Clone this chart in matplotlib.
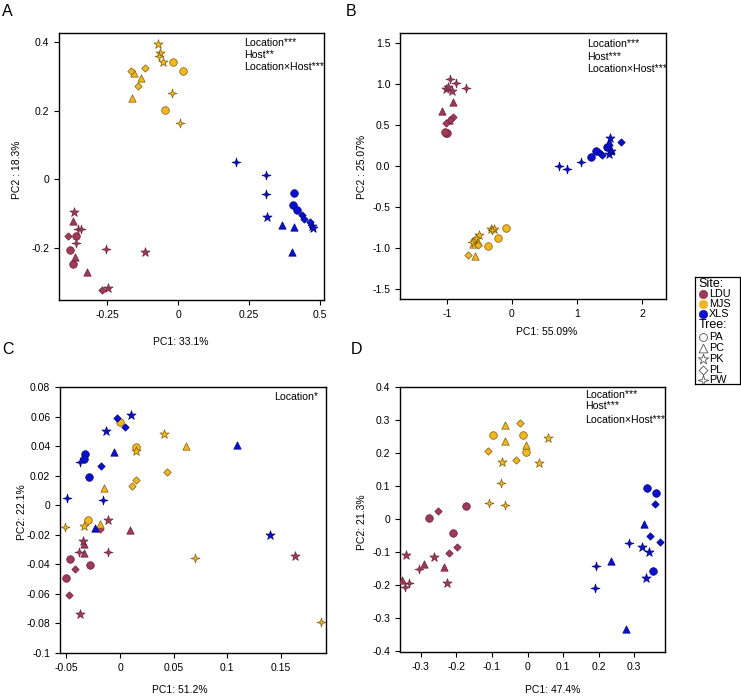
import matplotlib
matplotlib.use("Agg")
import matplotlib.pyplot as plt
from matplotlib.path import Path
import numpy as np

plt.rcParams['font.family'] = ['Liberation Sans', 'DejaVu Sans']
plt.rcParams['axes.unicode_minus'] = False

sites = ["LDU", "MJS", "XLS"]
trees = ["PA", "PC", "PK", "PL", "PW"]

# ---- panel A ----
a_pc1 = [-0.070, -0.065, -0.053, -0.068, -0.020, 0.005, -0.018, 0.017, -0.047, -0.165, -0.118, -0.140, -0.156, -0.132, -0.164,
         -0.368, -0.117, -0.246, -0.370, -0.363, -0.323, -0.353, -0.342, -0.360, -0.256, -0.361, -0.380, -0.370, -0.387, -0.267,
         0.204, 0.310, 0.308, 0.314, 0.472, 0.476, 0.410, 0.403, 0.420, 0.435, 0.443, 0.466, 0.367, 0.410, 0.401]
a_pc2 = [0.392, 0.368, 0.341, 0.358, 0.251, 0.163, 0.340, 0.314, 0.202, 0.314, 0.324, 0.270, 0.309, 0.295, 0.236,
         -0.096, -0.212, -0.315, -0.120, -0.224, -0.269, -0.143, -0.143, -0.184, -0.201, -0.163, -0.204, -0.246, -0.163, -0.320,
         0.051, 0.013, -0.041, -0.110, -0.136, -0.140, -0.039, -0.073, -0.089, -0.104, -0.114, -0.124, -0.132, -0.137, -0.212]
a_site = ["MJS"] * 15 + ["LDU"] * 15 + ["XLS"] * 15
a_tree = ["PK", "PK", "PK", "PW", "PW", "PW", "PA", "PA", "PA", "PL", "PL", "PL", "PC", "PC", "PC",
          "PK", "PK", "PK", "PC", "PC", "PC", "PW", "PW", "PW", "PW", "PA", "PA", "PA", "PL", "PL",
          "PW", "PW", "PW", "PK", "PK", "PK", "PA", "PA", "PA", "PL", "PL", "PL", "PC", "PC", "PC"]

# ---- panel B ----
b_pc1 = [-0.95, -0.86, -0.71, -1.01, -0.98, -0.92, -0.90, -1.08, -0.96, -0.91, -0.95, -1.01, -1.01, -0.99, -1.03,
         -0.09, -0.22, -0.37, -0.32, -0.28, -0.50, -0.30, -0.55, -0.62, -0.68, -0.52, -0.58, -0.57, -0.52, -0.60,
         0.73, 0.85, 1.07, 1.21, 1.29, 1.46, 1.36, 1.39, 1.68, 1.51, 1.49, 1.53, 1.48, 1.50, 1.52]
b_pc2 = [1.06, 1.02, 0.95, 0.94, 0.97, 0.92, 0.79, 0.68, 0.56, 0.60, 0.57, 0.53, 0.41, 0.40, 0.42,
         -0.75, -0.87, -0.97, -0.77, -0.76, -0.84, -0.78, -0.88, -0.92, -1.08, -0.96, -0.90, -1.09, -0.93, -0.95,
         0.00, -0.03, 0.05, 0.11, 0.19, 0.24, 0.16, 0.14, 0.29, 0.35, 0.15, 0.18, 0.25, 0.30, 0.20]
b_site = ["LDU"] * 15 + ["MJS"] * 15 + ["XLS"] * 15
b_tree = ["PW", "PW", "PW", "PK", "PK", "PK", "PC", "PC", "PC", "PL", "PL", "PL", "PA", "PA", "PA",
          "PA", "PA", "PA", "PK", "PK", "PK", "PW", "PW", "PW", "PL", "PL", "PL", "PC", "PC", "PC",
          "PW", "PW", "PW", "PA", "PA", "PA", "PL", "PL", "PL", "PK", "PK", "PK", "PC", "PC", "PC"]

# ---- panel C ----
c_pc1 = [-0.0030, 0.0106, 0.0047, -0.0131, -0.0056, -0.0323, -0.0339, -0.0376, -0.0177, -0.0292, -0.0498, -0.0162, -0.0236, 0.1089, 0.1395,
         -0.0003, 0.0407, 0.0613, 0.0149, 0.0149, 0.0442, 0.0146, 0.0115, -0.0149, -0.0302, -0.0184, -0.0333, -0.0510, 0.0700, 0.1873,
         -0.0184, -0.0109, 0.0096, -0.0342, -0.0380, -0.0333, -0.0109, -0.0467, -0.0420, -0.0283, -0.0500, -0.0473, -0.0370, 0.1630, -0.0340]
c_pc2 = [0.0589, 0.0611, 0.0532, 0.0501, 0.0363, 0.0345, 0.0316, 0.0291, 0.0268, 0.0189, 0.0050, 0.0036, -0.0156, 0.0408, -0.0201,
         0.0562, 0.0483, 0.0404, 0.0397, 0.0370, 0.0228, 0.0174, 0.0133, 0.0117, -0.0099, -0.0124, -0.0142, -0.0144, -0.0356, -0.0790,
         -0.0160, -0.0097, -0.0169, -0.0244, -0.0316, -0.0325, -0.0316, -0.0361, -0.0429, -0.0406, -0.0494, -0.0605, -0.0733, -0.0345, -0.0260]
c_site = ["XLS"] * 15 + ["MJS"] * 15 + ["LDU"] * 15
c_tree = ["PL", "PK", "PL", "PK", "PC", "PA", "PA", "PW", "PL", "PA", "PW", "PW", "PC", "PC", "PK",
          "PA", "PK", "PC", "PA", "PK", "PL", "PL", "PL", "PC", "PA", "PC", "PK", "PW", "PW", "PW",
          "PL", "PK", "PC", "PK", "PW", "PC", "PW", "PA", "PL", "PA", "PA", "PL", "PK", "PK", "PC"]

# ---- panel D ----
d_pc1 = [-0.0624, -0.0218, -0.0980, -0.0123, 0.0577, -0.0634, -0.0047, -0.0047, -0.1107, -0.0728, -0.0331, 0.0312, -0.0738, -0.1079, -0.0634,
         -0.1731, -0.2517, -0.2780, -0.2090, -0.1996, -0.2210, -0.3415, -0.2620, -0.2920, -0.3065, -0.2365, -0.3530, -0.3330, -0.3450, -0.2270,
         0.3368, 0.3605, 0.3586, 0.3273, 0.3444, 0.3718, 0.2857, 0.3217, 0.3415, 0.2356, 0.1930, 0.3520, 0.3340, 0.1910, 0.2780]
d_pc2 = [0.285, 0.292, 0.255, 0.256, 0.244, 0.237, 0.224, 0.204, 0.207, 0.174, 0.179, 0.171, 0.108, 0.048, 0.043,
         0.039, 0.025, 0.002, -0.041, -0.085, -0.102, -0.110, -0.114, -0.137, -0.150, -0.146, -0.185, -0.193, -0.207, -0.193,
         0.094, 0.079, 0.046, -0.015, -0.052, -0.069, -0.073, -0.084, -0.099, -0.126, -0.143, -0.159, -0.180, -0.208, -0.333]
d_site = ["MJS"] * 15 + ["LDU"] * 15 + ["XLS"] * 15
d_tree = ["PC", "PL", "PA", "PA", "PK", "PC", "PC", "PA", "PL", "PK", "PL", "PK", "PW", "PW", "PW",
          "PA", "PL", "PA", "PA", "PL", "PL", "PK", "PK", "PC", "PW", "PC", "PC", "PW", "PW", "PK",
          "PA", "PA", "PL", "PC", "PL", "PL", "PW", "PK", "PK", "PC", "PW", "PA", "PK", "PW", "PC"]

site_fill = {"LDU": "#9d3b57", "MJS": "#f3b520", "XLS": "#0b10cf"}
site_edge = {"LDU": "#6e2338", "MJS": "#7d5f10", "XLS": "#04047c"}

# four-pointed star for PW
ang = np.pi / 2 + np.arange(8) * np.pi / 4
rad = np.where(np.arange(8) % 2 == 0, 1.0, 0.3)
pw_verts = np.column_stack([rad * np.cos(ang), rad * np.sin(ang)])
pw_marker = Path(np.vstack([pw_verts, pw_verts[:1]]), closed=True)

tree_marker = {"PA": "o", "PC": "^", "PK": "*", "PL": "D", "PW": pw_marker}
tree_size = {"PA": 30, "PC": 28, "PK": 48, "PL": 14, "PW": 42}


def draw_panel(ax, pc1, pc2, site, tree):
    pc1 = np.array(pc1)
    pc2 = np.array(pc2)
    site = np.array(site)
    tree = np.array(tree)
    for s in sites:
        for t in trees:
            m = (site == s) & (tree == t)
            if m.any():
                ax.scatter(pc1[m], pc2[m], marker=tree_marker[t], s=tree_size[t],
                           c=site_fill[s], edgecolors=site_edge[s], linewidths=0.5, zorder=3)
    for sp in ax.spines.values():
        sp.set_linewidth(1.0)
    ax.tick_params(labelsize=7.5, length=3.5, width=0.8, direction='out')


fig = plt.figure(figsize=(7.41, 6.98), dpi=100)
W, H = 741.0, 698.0


def add_ax(l, t, r, b):
    return fig.add_axes([l / W, 1 - b / H, (r - l) / W, (b - t) / H])


axA = add_ax(59, 33, 324, 300)
axB = add_ax(400, 33, 666, 299)
axC = add_ax(60, 387, 326, 653)
axD = add_ax(400, 387, 665, 652)

draw_panel(axA, a_pc1, a_pc2, a_site, a_tree)
axA.set_xlim(-0.42, 0.514)
axA.set_ylim(-0.35, 0.425)
axA.set_xticks([-0.25, 0, 0.25, 0.5], ["-0.25", "0", "0.25", "0.5"])
axA.set_yticks([-0.2, 0, 0.2, 0.4], ["-0.2", "0", "0.2", "0.4"])

draw_panel(axB, b_pc1, b_pc2, b_site, b_tree)
axB.set_xlim(-1.72, 2.37)
axB.set_ylim(-1.62, 1.626)
axB.set_xticks([-1, 0, 1, 2], ["-1", "0", "1", "2"])
axB.set_yticks([-1.5, -1, -0.5, 0, 0.5, 1, 1.5], ["-1.5", "-1.0", "-0.5", "0.0", "0.5", "1.0", "1.5"])

draw_panel(axC, c_pc1, c_pc2, c_site, c_tree)
axC.set_xlim(-0.056, 0.192)
axC.set_ylim(-0.1, 0.08)
axC.set_xticks([-0.05, 0, 0.05, 0.1, 0.15], ["-0.05", "0", "0.05", "0.1", "0.15"])
axC.set_yticks([-0.1, -0.08, -0.06, -0.04, -0.02, 0, 0.02, 0.04, 0.06, 0.08],
               ["-0.1", "-0.08", "-0.06", "-0.04", "-0.02", "0", "0.02", "0.04", "0.06", "0.08"])

draw_panel(axD, d_pc1, d_pc2, d_site, d_tree)
axD.set_xlim(-0.359, 0.387)
axD.set_ylim(-0.403, 0.4)
axD.set_xticks([-0.3, -0.2, -0.1, 0, 0.1, 0.2, 0.3], ["-0.3", "-0.2", "-0.1", "0", "0.1", "0.2", "0.3"])
axD.set_yticks([-0.4, -0.3, -0.2, -0.1, 0, 0.1, 0.2, 0.3, 0.4],
               ["-0.4", "-0.3", "-0.2", "-0.1", "0", "0.1", "0.2", "0.3", "0.4"])

# significance notes
stat_fs = 7.6
for i, s in enumerate(["Location***", "Host**", "Location\u00d7Host***"]):
    axA.text(0.70, [0.961, 0.918, 0.871][i], s, transform=axA.transAxes, fontsize=stat_fs, va='center')
for i, s in enumerate(["Location***", "Host***", "Location\u00d7Host***"]):
    axB.text(0.703, [0.957, 0.911, 0.865][i], s, transform=axB.transAxes, fontsize=stat_fs, va='center')
axC.text(0.97, 0.962, "Location*", transform=axC.transAxes, fontsize=stat_fs, va='center', ha='right')
for i, s in enumerate(["Location***", "Host***", "Location\u00d7Host***"]):
    axD.text(0.697, [0.971, 0.927, 0.877][i], s, transform=axD.transAxes, fontsize=stat_fs, va='center')

# axis labels (placed in figure pixels)
lab_fs = 7.5


def ftext(x, y, s, **kw):
    fig.text(x / W, 1 - y / H, s, **kw)


ftext(181, 342, "PC1: 33.1%", fontsize=lab_fs, ha='center', va='center')
ftext(17, 170, "PC2 : 18.3%", fontsize=lab_fs, ha='center', va='center', rotation=90)
ftext(547, 332, "PC1: 55.09%", fontsize=lab_fs, ha='center', va='center')
ftext(362, 167, "PC2 : 25.07%", fontsize=lab_fs, ha='center', va='center', rotation=90)
ftext(180, 690, "PC1: 51.2%", fontsize=lab_fs, ha='center', va='center')
ftext(22, 512, "PC2: 22.1%", fontsize=lab_fs, ha='center', va='center', rotation=90)
ftext(553, 690, "PC1: 47.4%", fontsize=lab_fs, ha='center', va='center')
ftext(362, 522, "PC2: 21.3%", fontsize=lab_fs, ha='center', va='center', rotation=90)

# panel letters
for x, y, s in [(2, 11, "A"), (346, 11, "B"), (2, 349, "C"), (351, 349, "D")]:
    ftext(x, y, s, fontsize=11.5, ha='left', va='center')

# legend box
lg = add_ax(695, 277, 740, 384)
lg.set_xlim(0, 45)
lg.set_ylim(107, 0)
lg.set_xticks([])
lg.set_yticks([])
for sp in lg.spines.values():
    sp.set_linewidth(0.9)
lg.text(3.5, 7, "Site:", fontsize=9, va='center')
for s, y in zip(sites, [17, 27, 37]):
    lg.scatter([7.5], [y], marker='o', s=36, c=site_fill[s], edgecolors=site_fill[s], linewidths=0.5)
    lg.text(14, y, s, fontsize=7.8, va='center')
lg.text(3.5, 47.5, "Tree:", fontsize=9, va='center')
leg_size = {"PA": 32, "PC": 40, "PK": 60, "PL": 20, "PW": 60}
for t, y in zip(trees, [60, 71, 82, 93, 103]):
    lg.scatter([7.5], [y], marker=tree_marker[t], s=leg_size[t], facecolors='white',
               edgecolors='#555555', linewidths=0.6)
    lg.text(14, y, t, fontsize=7.8, va='center')

fig.savefig("out.png", dpi=100)
